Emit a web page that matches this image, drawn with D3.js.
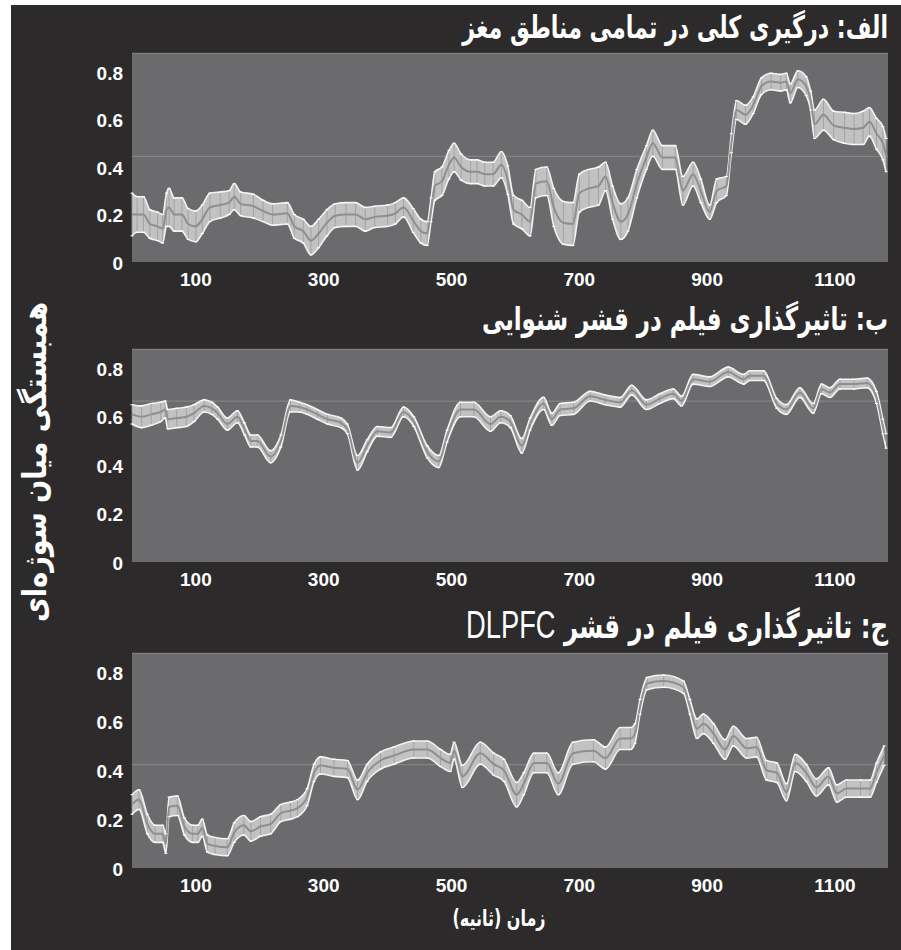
<!DOCTYPE html>
<html><head><meta charset="utf-8">
<script src="https://cdn.jsdelivr.net/npm/d3@7"></script>
<style>body{margin:0;background:#fff;} svg{display:block}</style>
</head><body><svg id="c" width="901" height="950"></svg>
<script>
// ---------- data ----------
const xTicks = [100, 300, 500, 700, 900, 1100];
const yTicks = [0, 0.2, 0.4, 0.6, 0.8];
const yTickLabels = ["0", "0.2", "0.4", "0.6", "0.8"];
const titles = [
  ["الف: درگیری کلی در تمامی مناطق مغز", ""],
  ["ب: تاثیرگذاری فیلم در قشر شنوایی", ""],
  ["ج: تاثیرگذاری فیلم در قشر ", "DLPFC"]
];
const yTitle = "همبستگی میان سوژه\u200cای";
const xTitle = "زمان (ثانیه)";
const refLevels = [0.445, 0.665, 0.423];

const timeA = [0,8,18,28,40,48,54,58,66,78,88,100,110,122,138,152,160,170,190,205,220,243,254,268,280,292,305,318,335,350,365,380,400,412,425,440,452,462,468,474,485,496,504,515,530,540,552,565,578,588,597,610,623,632,649,660,675,690,700,715,730,741,752,765,776,790,805,815,830,850,862,878,890,904,915,930,938,946,960,972,985,1000,1015,1024,1030,1042,1055,1062,1068,1082,1098,1115,1130,1144,1154,1165,1175,1180];
const meanA = [0.20,0.20,0.20,0.16,0.15,0.14,0.22,0.23,0.20,0.20,0.16,0.15,0.18,0.23,0.24,0.25,0.275,0.245,0.235,0.215,0.20,0.205,0.15,0.13,0.09,0.12,0.165,0.195,0.20,0.20,0.18,0.19,0.195,0.205,0.23,0.175,0.13,0.12,0.22,0.32,0.34,0.41,0.44,0.40,0.38,0.38,0.37,0.37,0.41,0.345,0.22,0.20,0.17,0.33,0.34,0.23,0.165,0.16,0.29,0.31,0.32,0.36,0.25,0.17,0.20,0.33,0.44,0.50,0.44,0.44,0.30,0.37,0.30,0.21,0.30,0.32,0.50,0.64,0.62,0.66,0.74,0.76,0.755,0.76,0.71,0.77,0.74,0.68,0.58,0.62,0.575,0.565,0.56,0.565,0.59,0.54,0.50,0.45];
const errA = [0.09,0.075,0.075,0.06,0.06,0.06,0.07,0.08,0.07,0.07,0.065,0.065,0.06,0.06,0.055,0.05,0.055,0.05,0.05,0.045,0.045,0.045,0.05,0.05,0.06,0.06,0.055,0.05,0.05,0.05,0.05,0.045,0.045,0.045,0.04,0.05,0.05,0.05,0.05,0.06,0.06,0.06,0.06,0.055,0.05,0.05,0.05,0.05,0.055,0.06,0.06,0.06,0.06,0.06,0.06,0.08,0.09,0.09,0.08,0.08,0.08,0.06,0.07,0.075,0.07,0.06,0.05,0.055,0.05,0.05,0.06,0.05,0.05,0.03,0.05,0.04,0.04,0.04,0.04,0.035,0.035,0.035,0.035,0.035,0.04,0.035,0.04,0.04,0.06,0.065,0.06,0.065,0.065,0.07,0.06,0.065,0.07,0.07];

const timeB = [0,15,30,45,52,56,70,85,97,113,125,134,149,165,176,186,196,217,233,248,262,274,290,306,327,337,353,368,384,405,425,441,462,480,493,514,535,561,577,592,610,623,644,657,670,691,717,740,764,782,805,826,847,860,878,904,933,957,967,988,1009,1024,1045,1066,1079,1092,1108,1130,1150,1165,1175,1180];
const meanB = [0.61,0.60,0.61,0.62,0.63,0.59,0.595,0.60,0.615,0.645,0.635,0.615,0.57,0.60,0.55,0.50,0.50,0.435,0.50,0.645,0.64,0.63,0.61,0.59,0.575,0.55,0.41,0.48,0.54,0.535,0.62,0.58,0.455,0.415,0.52,0.63,0.63,0.57,0.60,0.58,0.48,0.57,0.655,0.59,0.63,0.635,0.685,0.67,0.66,0.71,0.65,0.675,0.695,0.665,0.755,0.745,0.785,0.755,0.77,0.77,0.655,0.63,0.70,0.635,0.715,0.70,0.735,0.735,0.74,0.68,0.56,0.50];
const errB = [0.04,0.045,0.045,0.04,0.035,0.04,0.04,0.04,0.035,0.025,0.025,0.025,0.025,0.025,0.025,0.025,0.025,0.025,0.025,0.025,0.02,0.02,0.02,0.02,0.02,0.02,0.03,0.025,0.02,0.02,0.02,0.02,0.025,0.025,0.025,0.03,0.03,0.03,0.025,0.025,0.03,0.025,0.025,0.025,0.025,0.025,0.02,0.02,0.02,0.02,0.02,0.02,0.02,0.02,0.02,0.02,0.02,0.02,0.02,0.02,0.02,0.02,0.02,0.02,0.02,0.02,0.02,0.02,0.02,0.025,0.03,0.03];

const timeC = [0,11,24,36,48,53,58,71,82,95,103,110,118,130,149,160,175,186,201,217,233,248,259,274,285,295,316,337,353,368,389,410,441,462,483,498,504,517,545,566,582,602,613,629,649,667,690,722,741,764,780,787,795,806,832,863,873,884,894,910,928,941,962,977,993,1009,1024,1038,1055,1071,1090,1103,1118,1140,1155,1165,1177];
const meanC = [0.26,0.28,0.18,0.14,0.14,0.10,0.25,0.255,0.17,0.14,0.14,0.165,0.10,0.09,0.085,0.145,0.175,0.15,0.17,0.18,0.225,0.235,0.245,0.29,0.39,0.42,0.41,0.405,0.32,0.39,0.44,0.46,0.485,0.485,0.45,0.43,0.48,0.375,0.47,0.425,0.40,0.30,0.345,0.43,0.43,0.345,0.47,0.48,0.45,0.53,0.53,0.55,0.66,0.755,0.765,0.74,0.66,0.57,0.59,0.55,0.485,0.54,0.49,0.495,0.40,0.39,0.31,0.43,0.39,0.33,0.375,0.305,0.325,0.325,0.325,0.39,0.46];
const errC = [0.04,0.04,0.04,0.035,0.035,0.04,0.04,0.04,0.035,0.035,0.035,0.035,0.035,0.035,0.035,0.04,0.04,0.04,0.04,0.04,0.035,0.035,0.035,0.035,0.035,0.035,0.035,0.035,0.04,0.035,0.035,0.035,0.035,0.035,0.035,0.035,0.035,0.045,0.045,0.045,0.045,0.05,0.045,0.04,0.04,0.045,0.045,0.045,0.045,0.045,0.045,0.04,0.03,0.025,0.025,0.025,0.03,0.04,0.04,0.04,0.04,0.04,0.04,0.04,0.04,0.04,0.035,0.035,0.035,0.035,0.035,0.035,0.035,0.035,0.035,0.04,0.04];

const series = [
  {t: timeA, m: meanA, e: errA},
  {t: timeB, m: meanB, e: errB},
  {t: timeC, m: meanC, e: errC}
];

// ---------- layout ----------
const W = 901, H = 950;
const left = 132, right = 888;
const panels = [{top: 53, bottom: 262, tb: 38}, {top: 349, bottom: 562, tb: 330}, {top: 653, bottom: 868, tb: 638}];
const titleWidths = [426, 406, 422];
const numFont = "'Liberation Sans', Arial, sans-serif";
const faFont = "'DejaVu Sans', sans-serif";

const svg = d3.select("#c");
svg.append("rect").attr("x", 0).attr("y", 0).attr("width", W).attr("height", H).attr("fill", "#ffffff");
svg.append("rect").attr("x", 11).attr("y", 5).attr("width", W - 11).attr("height", H - 5).attr("fill", "#2c2a2b");

const x = d3.scaleLinear().domain([0, 1183]).range([left, right]);

function fitText(sel, target) {
  const w = sel.node().getComputedTextLength();
  const fs = parseFloat(sel.attr("font-size"));
  sel.attr("font-size", fs * target / w);
}

panels.forEach((p, i) => {
  const g = svg.append("g");
  const y = d3.scaleLinear().domain([0, 0.88]).range([p.bottom, p.top]);
  g.append("rect").attr("x", left).attr("y", p.top).attr("width", right - left).attr("height", p.bottom - p.top).attr("fill", "#6b6b6d");
  g.append("line").attr("x1", left).attr("x2", right).attr("y1", p.top + 0.5).attr("y2", p.top + 0.5).attr("stroke", "#7c7c7e").attr("stroke-width", 1.5);
  g.append("line").attr("x1", left).attr("x2", right).attr("y1", y(refLevels[i])).attr("y2", y(refLevels[i])).attr("stroke", "#838385").attr("stroke-width", 1.2);

  const s = series[i];
  const data = s.t.map((t, k) => ({t, m: s.m[k], e: s.e[k]}));
  const area = d3.area().x(d => x(d.t)).y0(d => y(d.m - d.e)).y1(d => y(d.m + d.e)).curve(d3.curveMonotoneX);
  g.append("path").datum(data).attr("d", area).attr("fill", "#c2c2c2");
  g.selectAll(null).data(data).enter().append("line")
    .attr("x1", d => x(d.t)).attr("x2", d => x(d.t))
    .attr("y1", d => y(d.m - d.e)).attr("y2", d => y(d.m + d.e))
    .attr("stroke", "#9a9a9a").attr("stroke-width", 0.8);
  const upper = d3.line().x(d => x(d.t)).y(d => y(d.m + d.e)).curve(d3.curveMonotoneX);
  const lower = d3.line().x(d => x(d.t)).y(d => y(d.m - d.e)).curve(d3.curveMonotoneX);
  const mid = d3.line().x(d => x(d.t)).y(d => y(d.m)).curve(d3.curveMonotoneX);
  g.append("path").datum(data).attr("d", upper).attr("fill", "none").attr("stroke", "#f2f2f2").attr("stroke-width", 1.6);
  g.append("path").datum(data).attr("d", lower).attr("fill", "none").attr("stroke", "#f2f2f2").attr("stroke-width", 1.6);
  g.append("path").datum(data).attr("d", mid).attr("fill", "none").attr("stroke", "#8e8e90").attr("stroke-width", 2);
  ["up", "lo"].forEach(side => {
    g.selectAll(null).data(data).enter().append("line")
      .attr("x1", d => x(d.t) - 1.5).attr("x2", d => x(d.t) + 1.5)
      .attr("y1", d => y(side === "up" ? d.m + d.e : d.m - d.e))
      .attr("y2", d => y(side === "up" ? d.m + d.e : d.m - d.e))
      .attr("stroke", "#ffffff").attr("stroke-width", 1);
  });

  g.selectAll(null).data(yTicks).enter().append("text")
    .attr("x", 123).attr("y", d => y(d)).attr("dy", "0.4em")
    .attr("text-anchor", "end").attr("fill", "#ffffff")
    .attr("font-family", numFont).attr("font-weight", "bold").attr("font-size", 19)
    .text((d, k) => yTickLabels[k]);
  g.selectAll(null).data(xTicks).enter().append("text")
    .attr("x", d => x(d)).attr("y", p.bottom + 24)
    .attr("text-anchor", "middle").attr("fill", "#ffffff")
    .attr("font-family", numFont).attr("font-weight", "bold").attr("font-size", 19)
    .text(d => d);

  const tg = g.append("g").attr("transform", `translate(${right},${p.tb}) scale(1,1.4)`);
  const tt = tg.append("text")
    .attr("x", 0).attr("y", 0)
    .style("direction", "rtl").attr("text-anchor", "start")
    .attr("fill", "#ffffff").attr("font-family", faFont).attr("font-weight", "bold").attr("font-size", 24);
  tt.append("tspan").text(titles[i][0]);
  if (titles[i][1]) {
    tt.append("tspan").attr("font-family", numFont).attr("font-weight", "normal").attr("font-size", "1.12em").text(titles[i][1]);
  }
  fitText(tt, titleWidths[i]);
});

const ytg = svg.append("g").attr("transform", "translate(46,462) rotate(-90) scale(1,1.2)");
const yt = ytg.append("text")
  .attr("x", 0).attr("y", 0)
  .attr("text-anchor", "middle").style("direction", "rtl")
  .attr("fill", "#ffffff").attr("font-family", faFont).attr("font-weight", "bold").attr("font-size", 28)
  .text(yTitle);
fitText(yt, 320);

const xtg = svg.append("g").attr("transform", "translate(499,926) scale(1,1.4)");
const xt = xtg.append("text")
  .attr("x", 0).attr("y", 0)
  .attr("text-anchor", "middle").style("direction", "rtl")
  .attr("fill", "#ffffff").attr("font-family", faFont).attr("font-weight", "bold").attr("font-size", 18)
  .text(xTitle);
fitText(xt, 93);
</script>
</body></html>
